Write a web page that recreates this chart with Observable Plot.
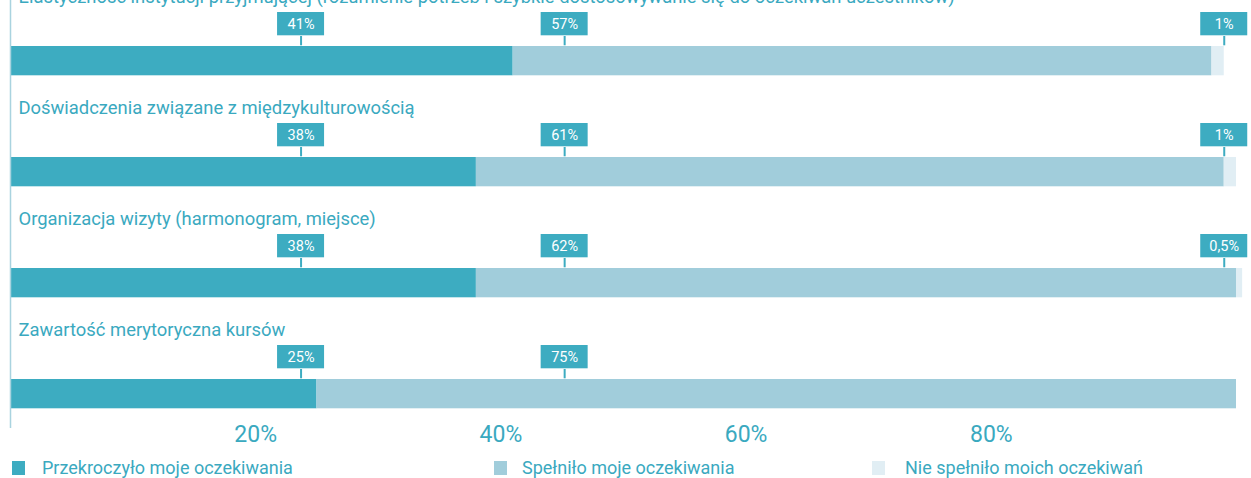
<!DOCTYPE html>
<html><head><meta charset="utf-8">
<script src="https://cdn.jsdelivr.net/npm/d3@7"></script>
<script src="https://cdn.jsdelivr.net/npm/@observablehq/plot@0.6"></script>
<style>
body{margin:0;background:#fff;font-family:Roboto,sans-serif;overflow:hidden;}
#legend{position:relative;height:32px;width:1251px;}
.sw{position:absolute;top:9px;width:13px;height:14px;}
.lt{position:absolute;top:0;line-height:32px;font-size:18px;color:#3aa9bf;white-space:nowrap;}
</style></head><body>
<div id="chart"></div>
<div id="legend"></div>
<script>
const categories = [
  "Elastyczność instytucji przyjmującej (rozumienie potrzeb i szybkie dostosowywanie się do oczekiwań uczestników)",
  "Doświadczenia związane z międzykulturowością",
  "Organizacja wizyty (harmonogram, miejsce)",
  "Zawartość merytoryczna kursów"
];
const seriesNames = ["Przekroczyło moje oczekiwania", "Spełniło moje oczekiwania", "Nie spełniło moich oczekiwań"];
const exceeded = [41, 38, 38, 25];
const met = [57, 61, 62, 75];
const notMet = [1, 1, 0.5, 0];
const xTicks = [20, 40, 60, 80];

// layout / style constants
const colors = ["#3dacc1", "#a1cddb", "#e1eef4"];
const textColor = "#3aa9bf";
const calloutAt = [23.7, 45.2, 99.0];

const seriesValues = [exceeded, met, notMet];
const rows = [];
categories.forEach((c, i) => {
  seriesValues.forEach((vals, s) => {
    rows.push({cat: c, series: seriesNames[s], s, value: vals[i]});
  });
});
const callouts = rows.filter(d => d.value > 0).map(d => ({...d, pos: calloutAt[d.s]}));
const fmt = v => String(v).replace(".", ",") + "%";

const step = 111.7;
const chart = Plot.plot({
  width: 1251,
  height: 452,
  marginTop: 0,
  marginBottom: 24,
  marginLeft: 0,
  marginRight: 0,
  style: {fontFamily: "Roboto, sans-serif", background: "white"},
  x: {domain: [0, 100], range: [10, 1236]},
  y: {domain: categories, range: [-6, -6 + 4 * step], padding: 0, axis: null},
  color: {domain: seriesNames, range: colors},
  marks: [
    Plot.barX(rows, {x: "value", y: "cat", fill: "series", insetTop: 51, insetBottom: step - 81}),
    Plot.ruleX([0], {stroke: "#a9d3df", strokeWidth: 1.5}),
    Plot.tickX(callouts, {x: "pos", y: "cat", stroke: "#3dacc1", strokeWidth: 2, insetTop: 41, insetBottom: step - 51}),
    Plot.barX(callouts, {x1: "pos", x2: "pos", y: "cat", fill: "#3dacc1", insetLeft: -23.5, insetRight: -23.5, insetTop: 17, insetBottom: step - 41}),
    Plot.text(callouts, {x: "pos", y: "cat", text: d => fmt(d.value), fill: "white", fontSize: 14.5, dy: -27, lineAnchor: "middle"}),
    Plot.text(categories, {x: 0, y: d => d, text: d => d, dx: 8, dy: -48, textAnchor: "start", lineAnchor: "bottom", fill: textColor, fontSize: 18.4}),
    Plot.axisX(xTicks, {tickSize: 0, tickFormat: d => d + "%", fontSize: 23, fill: textColor, dy: -12, anchor: "bottom", label: null})
  ]
});
document.getElementById("chart").appendChild(chart);

const lg = document.getElementById("legend");
const swLeft = [12, 494, 872];
const txLeft = [42, 522, 905];
seriesNames.forEach((n, i) => {
  const sw = document.createElement("div");
  sw.className = "sw"; sw.style.left = swLeft[i] + "px"; sw.style.background = colors[i];
  const t = document.createElement("div");
  t.className = "lt"; t.style.left = txLeft[i] + "px"; t.textContent = n;
  lg.appendChild(sw); lg.appendChild(t);
});
</script>
</body></html>
